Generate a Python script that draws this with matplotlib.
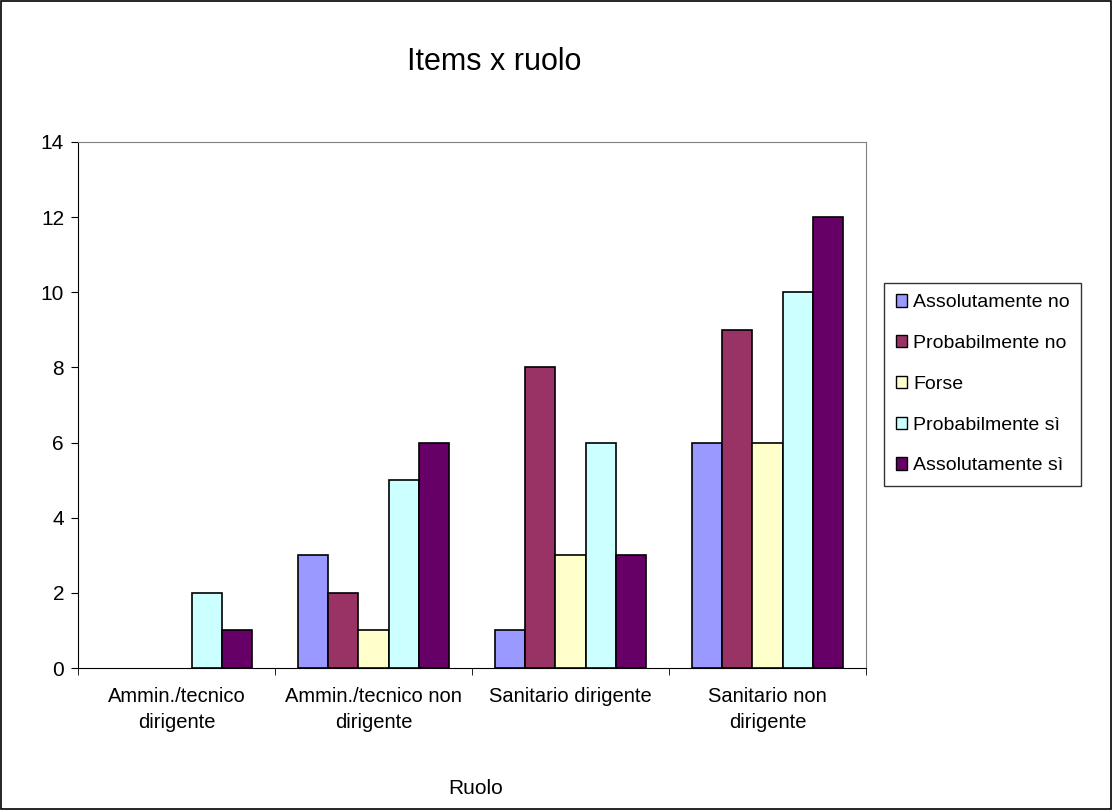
import matplotlib.pyplot as plt
import numpy as np
from matplotlib.patches import Rectangle

plt.rcParams['font.family'] = ['Liberation Sans', 'DejaVu Sans']

categories = ['Ammin./tecnico\ndirigente', 'Ammin./tecnico non\ndirigente',
              'Sanitario dirigente', 'Sanitario non\ndirigente']
series = ['Assolutamente no', 'Probabilmente no', 'Forse', 'Probabilmente sì', 'Assolutamente sì']
values = [
    [0, 3, 1, 6],
    [0, 2, 8, 9],
    [0, 1, 3, 6],
    [2, 5, 6, 10],
    [1, 6, 3, 12],
]
colors = ['#9999FF', '#993366', '#FFFFCC', '#CCFFFF', '#660066']

fig = plt.figure(figsize=(11.12, 8.10), dpi=100)
fig.patches.append(Rectangle((0.001, 0.001), 0.998, 0.998, transform=fig.transFigure,
                             fill=False, edgecolor='black', linewidth=1.2))
ax = fig.add_axes([0.0701, 0.1753, 0.7087, 0.6494])

x = np.arange(len(categories))
w = 1 / 6.5
for i, (name, vals) in enumerate(zip(series, values)):
    bars = ax.bar(x - 2 * w + i * w, vals, width=w, color=colors[i], edgecolor='black',
                  linewidth=1.2, label=name, zorder=3)
    for b, v in zip(bars, vals):
        if v == 0:
            b.set_linewidth(0)

ax.set_xlim(-0.5, len(categories) - 0.5)
ax.set_ylim(0, 14)
ax.set_yticks(range(0, 15, 2))
ax.tick_params(axis='y', labelsize=15, length=5, direction='out', pad=5)
ax.set_xticks(x)
ax.set_xticklabels(categories, fontsize=14.5, linespacing=1.45)
ax.tick_params(axis='x', length=0, pad=14)
ax.set_xticks(np.arange(-0.5, len(categories)), minor=True)
ax.tick_params(axis='x', which='minor', length=5, direction='out')

for s in ['top', 'right']:
    ax.spines[s].set_color('#808080')
for s in ['left', 'bottom']:
    ax.spines[s].set_color('black')

fig.text(0.4445, 0.923, 'Items x ruolo', fontsize=22, ha='center', va='center')
fig.text(0.428, 0.027, 'Ruolo', fontsize=15, ha='center', va='center')

leg = fig.legend(loc='upper left', bbox_to_anchor=(0.795, 0.651), fontsize=14,
                 handlelength=0.6, handleheight=0.6, handletextpad=0.3,
                 labelspacing=1.22, borderpad=0.6, borderaxespad=0, fancybox=False,
                 frameon=True, edgecolor='black')
leg.get_frame().set_linewidth(1.0)
for h in leg.legend_handles:
    h.set_linewidth(1.0)

fig.savefig('out.png', dpi=100)
